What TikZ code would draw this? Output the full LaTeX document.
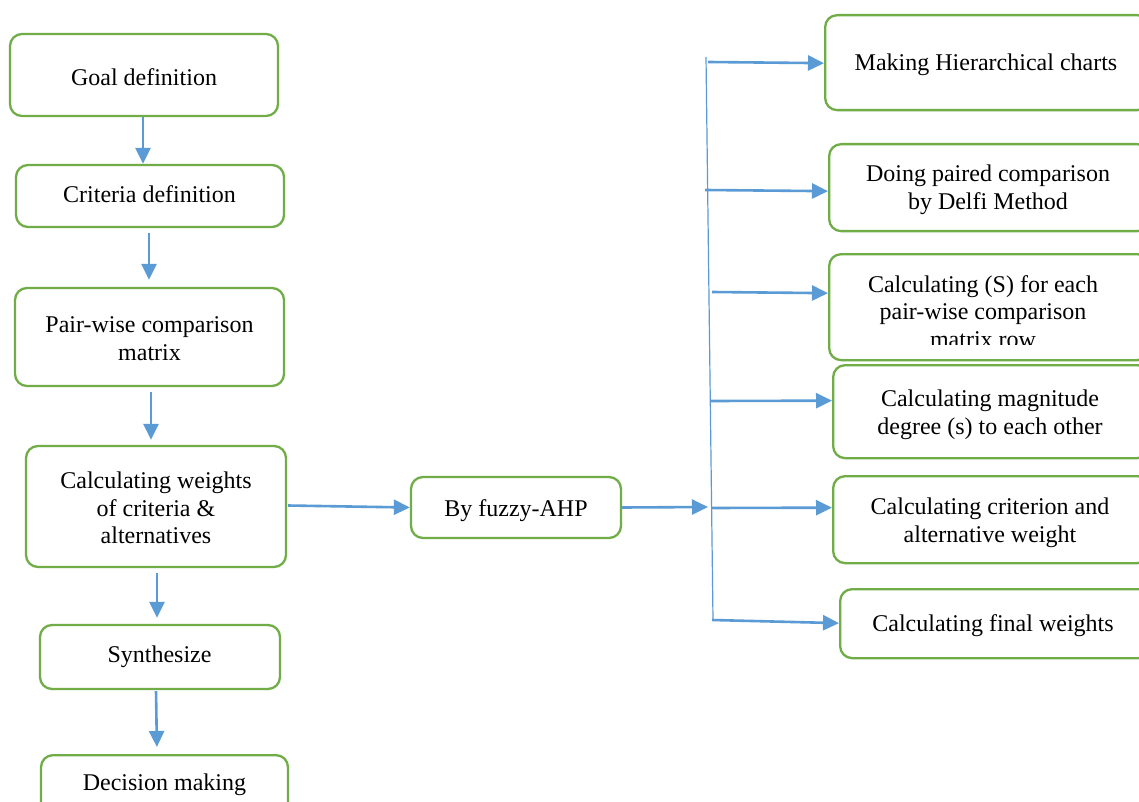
\documentclass[tikz,border=0pt]{standalone}
\usepackage{fontspec}
\setmainfont{Liberation Serif}
\usetikzlibrary{arrows.meta,calc}
\definecolor{boxgreen}{HTML}{70AD47}
\definecolor{arrowblue}{HTML}{5B9BD5}
\tikzset{
  box/.style={draw=boxgreen, line width=2.3pt, rounded corners=12pt, inner sep=0pt, fill=white},
  txt/.style={inner sep=0pt, align=center, font=\fontsize{24}{27.7}\selectfont},
  arr/.style={draw=arrowblue, line width=2.6pt, -{Triangle[length=16pt,width=15pt]}},
  bus/.style={draw=arrowblue, line width=1.2pt}
}
\begin{document}
\begin{tikzpicture}[x=1pt,y=-1pt]
\clip (0,0) rectangle (1139,802);
\fill[white] (0,0) rectangle (1139,802);
% left column
\node[box, minimum width=268pt, minimum height=82pt] (goal) at (144,75) {};
\node[txt] (goalt) at (144,77) {Goal definition};
\node[box, minimum width=268pt, minimum height=62pt] (crit) at (150,196) {};
\node[txt] (critt) at (149.5,194) {Criteria definition};
\node[box, minimum width=269pt, minimum height=98pt] (pair) at (149.5,337) {};
\node[txt] (pairt) at (149.5,338.5) {Pair-wise comparison\\matrix};
\node[box, minimum width=260pt, minimum height=121pt] (calc) at (156,506.5) {};
\node[txt] (calct) at (156,508) {Calculating weights\\of criteria \&\\alternatives};
\node[box, minimum width=240pt, minimum height=64pt] (synth) at (160,657) {};
\node[txt] (syntht) at (159.5,657) {Synthesize};
\node[box, minimum width=247pt, minimum height=62pt, anchor=north] (dec) at (164.5,754) {};
\node[txt] (dect) at (164.5,785) {Decision making};
% middle
\node[box, minimum width=210pt, minimum height=61pt] (fuzzy) at (516,507.5) {};
\node[txt] (fuzzyt) at (516,510.5) {By fuzzy-AHP};
% right column
\node[box, minimum width=324pt, minimum height=95pt, anchor=north west] (r1) at (824,14) {};
\node[txt] (r1t) at (986,65) {Making Hierarchical charts};
\node[box, minimum width=320pt, minimum height=87pt, anchor=north west] (r2) at (828,143) {};
\node[txt] (r2t) at (988,189.5) {Doing paired comparison\\by Delfi Method};
\node[box, minimum width=320pt, minimum height=106pt, anchor=north west] (r3) at (828,253) {};
\begin{scope}
\clip (830,255) rectangle (1139,344);
\node[txt, anchor=north] (r3t) at (983,275) {Calculating (S) for each\\pair-wise comparison\\matrix row};
\end{scope}
\node[box, minimum width=316pt, minimum height=93pt, anchor=north west] (r4) at (832,364) {};
\node[txt] (r4t) at (990,414.5) {Calculating magnitude\\degree (s) to each other};
\node[box, minimum width=316pt, minimum height=87pt, anchor=north west] (r5) at (832,475) {};
\node[txt] (r5t) at (990,523) {Calculating criterion and\\alternative weight};
\node[box, minimum width=310pt, minimum height=69pt, anchor=north west] (r6) at (839,588) {};
\node[txt] (r6t) at (993,626) {Calculating final weights};
% vertical bus line
\coordinate (bt) at (706,57);
\coordinate (bb) at (713,620);
\draw[bus] (bt) -- (bb);
% left column arrows
\draw[arr] ($(goal.south)+(-1,0)$) -- ($(crit.north)+(-7,0)$);
\draw[arr, shorten <=5pt, shorten >=7pt] ($(crit.south)+(-1,0)$) -- ($(pair.north)+(-0.5,0)$);
\draw[arr, shorten <=5pt, shorten >=5pt] ($(pair.south)+(1.5,0)$) -- ($(calc.north)+(-5,0)$);
\draw[arr, shorten <=5pt, shorten >=6pt] ($(calc.south)+(1,0)$) -- ($(synth.north)+(-3,0)$);
\draw[arr, shorten <=1pt, shorten >=7pt] ($(synth.south)+(-4,0)$) -- ($(dec.north)+(-7.5,0)$);
% to fuzzy and bus
\draw[arr] ($(calc.east)+(1,-1)$) -- (fuzzy.west);
\coordinate (bm) at (708,507);
\draw[arr] (fuzzy.east) -- (bm);
% bus to right boxes
\coordinate (b1) at (708,62);
\coordinate (b2) at (705,190);
\coordinate (b3) at (712,292);
\coordinate (b4) at (711,401);
\coordinate (b5) at (711,508);
\coordinate (b6) at (712,620);
\draw[arr] (b1) -- ($(r1.west)+(0,0.5)$);
\draw[arr] (b2) -- ($(r2.west)+(0,3.5)$);
\draw[arr] (b3) -- ($(r3.west)+(0,-14)$);
\draw[arr] (b4) -- ($(r4.west)+(0,-11)$);
\draw[arr] (b5) -- ($(r5.west)+(0,-12)$);
\draw[arr] (b6) -- ($(r6.west)+(0,-0.5)$);
\end{tikzpicture}
\end{document}
